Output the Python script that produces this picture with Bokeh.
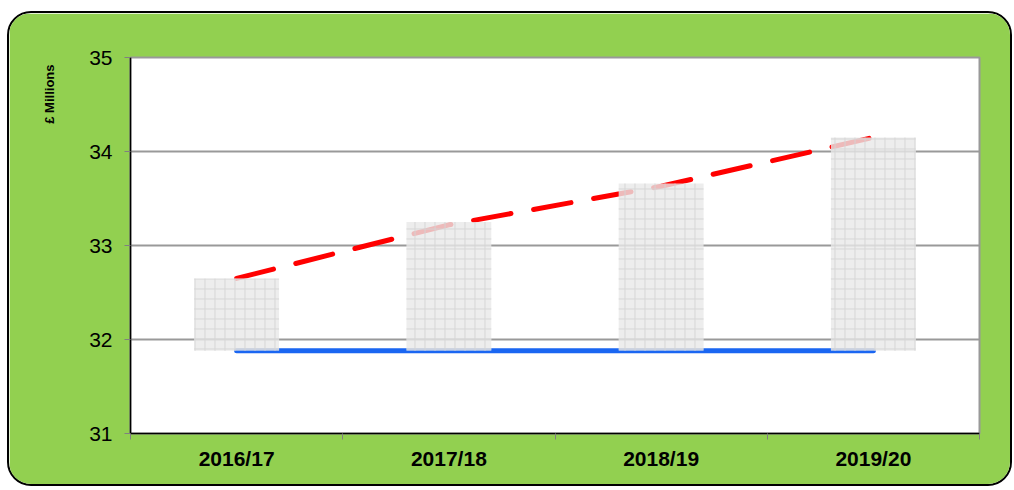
from bokeh.plotting import figure
from bokeh.models import Range1d, FixedTicker, Title, ColumnDataSource
from bokeh.embed import file_html
from bokeh.resources import INLINE

categories = ["2016/17", "2017/18", "2018/19", "2019/20"]
bar_top = [32.65, 33.25, 33.66, 34.15]
trend = [32.65, 33.22, 33.63, 34.15]
baseline = [31.88, 31.88, 31.88, 31.88]
y_ticks = [31, 32, 33, 34, 35]

xpos = [i + 0.5 for i in range(len(categories))]
src = ColumnDataSource(dict(x=xpos, top=bar_top, bottom=baseline, trend=trend, base=baseline))

p = figure(width=1005, height=475, output_backend="svg", toolbar_location=None,
           x_range=Range1d(0, len(categories)), y_range=Range1d(31, 35),
           min_border_left=121, min_border_right=35, min_border_top=44, min_border_bottom=55,
           margin=(11, 0, 0, 7),
           styles={"border": "2px solid black", "border-radius": "24px", "overflow": "hidden"})
p.background_fill_color = "white"
p.border_fill_color = "#92d050"
p.outline_line_color = "#999999"
p.outline_line_width = 2

# lines first, bars drawn over them semi-transparently
p.line("x", "trend", source=src, line_color="#ff0000", line_width=5,
       line_dash="38 23", line_cap="round")
p.line("x", "base", source=src, line_color="#1a66f2", line_width=5, line_cap="round")
p.vbar(x="x", top="top", bottom="bottom", width=0.4, source=src,
       fill_color="#e8e8e8", fill_alpha=0.8, line_color=None,
       hatch_pattern="+", hatch_color="#d4d4d4", hatch_scale=10, hatch_weight=1, hatch_alpha=0.9)

# y axis
ya = p.yaxis[0]
ya.ticker = FixedTicker(ticks=y_ticks, minor_ticks=[])
ya.axis_line_color = "black"
ya.axis_line_width = 1.5
ya.major_tick_line_color = "#808080"
ya.major_tick_in = 0
ya.major_tick_out = 6
ya.major_label_text_font = "Liberation Sans"
ya.major_label_text_font_size = "21px"
ya.major_label_text_color = "black"
ya.major_label_standoff = 12

# x axis
xa = p.xaxis[0]
xa.ticker = FixedTicker(ticks=xpos, minor_ticks=list(range(len(categories) + 1)))
xa.major_label_overrides = {x: c for x, c in zip(xpos, categories)}
xa.axis_line_color = "black"
xa.axis_line_width = 1.5
xa.major_tick_line_color = None
xa.minor_tick_line_color = "#808080"
xa.minor_tick_in = 0
xa.minor_tick_out = 6
xa.major_label_text_font = "Liberation Sans"
xa.major_label_text_font_style = "bold"
xa.major_label_text_font_size = "21px"
xa.major_label_text_color = "black"
xa.major_label_standoff = 7

p.xgrid.visible = False
p.ygrid.ticker = FixedTicker(ticks=y_ticks)
p.ygrid.grid_line_color = "#999999"
p.ygrid.grid_line_width = 2

p.add_layout(Title(text="£ Millions", align="right", offset=7, standoff=59,
                   text_font="Liberation Sans", text_font_style="bold",
                   text_font_size="13px", text_color="black"), "left")

open("out.html", "w").write(file_html(p, INLINE))
